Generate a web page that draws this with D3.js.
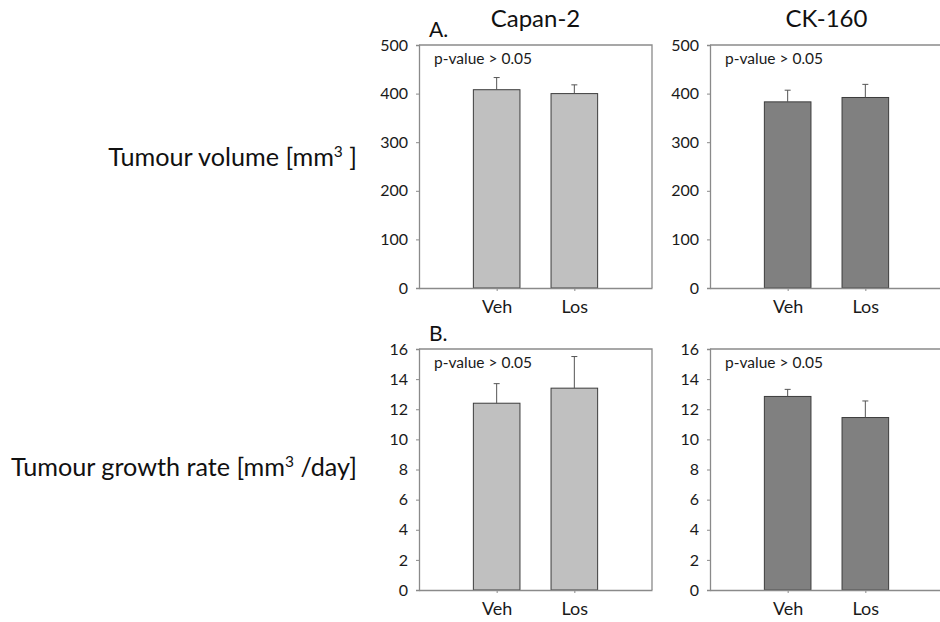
<!DOCTYPE html>
<html>
<head>
<meta charset="utf-8">
<script src="https://cdn.jsdelivr.net/npm/d3@7"></script>
<style>
  html, body { margin: 0; padding: 0; background: #fff; }
  svg { display: block; font-family: Lato, "Open Sans", sans-serif; }
</style>
</head>
<body>
<svg id="chart" width="940" height="622"></svg>
<script>
// Treatment groups
const groups = ["Veh", "Los"];

// Cell lines (columns)
const cellLines = ["Capan-2", "CK-160"];

// Tumour volume [mm3]: means and upper error
const volumeCapan = [408, 400];
const volumeCapanErr = [25, 18];
const volumeCK = [383, 392];
const volumeCKErr = [24, 27];

// Tumour growth rate [mm3/day]: means and upper error
const rateCapan = [12.4, 13.4];
const rateCapanErr = [1.3, 2.1];
const rateCK = [12.85, 11.45];
const rateCKErr = [0.47, 1.1];

// Axis ticks
const volumeTicks = [0, 100, 200, 300, 400, 500];
const rateTicks = [0, 2, 4, 6, 8, 10, 12, 14, 16];

const pText = "p-value > 0.05";

const svg = d3.select("#chart");

const colX = [419, 710];
const panelW = 233;
const rows = [
  { top: 45, bottom: 288, max: 500, ticks: volumeTicks, tag: "A.",
    data: [[volumeCapan, volumeCapanErr], [volumeCK, volumeCKErr]] },
  { top: 349, bottom: 590, max: 16, ticks: rateTicks, tag: "B.",
    data: [[rateCapan, rateCapanErr], [rateCK, rateCKErr]] }
];
const fills = ["#c0c0c0", "#808080"];
const axisColor = "#8a8a8a";

rows.forEach((row, ri) => {
  row.data.forEach((d, ci) => {
    const [vals, errs] = d;
    const x0 = colX[ci];
    const g = svg.append("g");

    const x = d3.scalePoint().domain(groups).range([x0, x0 + panelW]).padding(1);
    const y = d3.scaleLinear().domain([0, row.max]).range([row.bottom, row.top]);
    const barW = x.step() * 0.6;

    // bars
    g.selectAll("rect.bar").data(groups).join("rect")
      .attr("class", "bar")
      .attr("x", k => x(k) - barW / 2)
      .attr("y", (k, i) => y(vals[i]))
      .attr("width", barW)
      .attr("height", (k, i) => y(0) - y(vals[i]))
      .attr("fill", fills[ci])
      .attr("stroke", "#3c3c3c")
      .attr("stroke-width", 1);

    // upper error bars
    g.selectAll("line.err").data(groups).join("line")
      .attr("class", "err")
      .attr("x1", k => x(k)).attr("x2", k => x(k))
      .attr("y1", (k, i) => y(vals[i]))
      .attr("y2", (k, i) => y(vals[i] + errs[i]))
      .attr("stroke", "#555").attr("stroke-width", 1);
    g.selectAll("line.cap").data(groups).join("line")
      .attr("class", "cap")
      .attr("x1", k => x(k) - 3).attr("x2", k => x(k) + 3)
      .attr("y1", (k, i) => y(vals[i] + errs[i]))
      .attr("y2", (k, i) => y(vals[i] + errs[i]))
      .attr("stroke", "#555").attr("stroke-width", 1);

    // frame: top and right edges
    g.append("path")
      .attr("d", `M${x0},${row.top}H${x0 + panelW}V${row.bottom}`)
      .attr("fill", "none").attr("stroke", axisColor).attr("stroke-width", 1.3);

    // y axis
    const ya = g.append("g").attr("transform", `translate(${x0},0)`)
      .call(d3.axisLeft(y).tickValues(row.ticks).tickSize(3).tickPadding(8));
    ya.select(".domain").attr("stroke", axisColor).attr("stroke-width", 1.3);
    ya.selectAll(".tick line").attr("stroke", axisColor);
    ya.selectAll(".tick text").attr("fill", "#1a1a1a").style("font-size", "16px")
      .style("font-family", "Lato, sans-serif");

    // x axis
    const xa = g.append("g").attr("transform", `translate(0,${row.bottom})`)
      .call(d3.axisBottom(x).tickSize(3).tickPadding(9).tickSizeOuter(0));
    xa.select(".domain").attr("stroke", axisColor).attr("stroke-width", 1.3);
    xa.selectAll(".tick line").attr("stroke", axisColor);
    xa.selectAll(".tick text").attr("fill", "#1a1a1a").style("font-size", "18px")
      .style("font-family", "Lato, sans-serif");

    // significance note
    g.append("text")
      .attr("x", x0 + 15).attr("y", row.top + 19)
      .attr("fill", "#1a1a1a").style("font-size", "15.5px")
      .text(pText);
  });

  // panel tag
  svg.append("text").attr("x", 429).attr("y", row.top - 8)
    .attr("fill", "#111").style("font-size", "21px").text(row.tag);
});

// column titles
cellLines.forEach((name, ci) => {
  svg.append("text")
    .attr("x", colX[ci] + panelW / 2).attr("y", 27)
    .attr("text-anchor", "middle")
    .attr("fill", "#111").style("font-size", "24px")
    .text(name);
});

// row labels
const rowLabel = (yPos, pre, post) => {
  const t = svg.append("text").attr("x", 357).attr("y", yPos)
    .attr("text-anchor", "end").attr("fill", "#111").style("font-size", "25.2px");
  t.append("tspan").text(pre);
  t.append("tspan").attr("dy", -9).style("font-size", "15.5px").text("3");
  t.append("tspan").attr("dy", 9).text(post);
};
rowLabel(166, "Tumour volume [mm", " ]");
rowLabel(476, "Tumour growth rate [mm", " /day]");
</script>
</body>
</html>
